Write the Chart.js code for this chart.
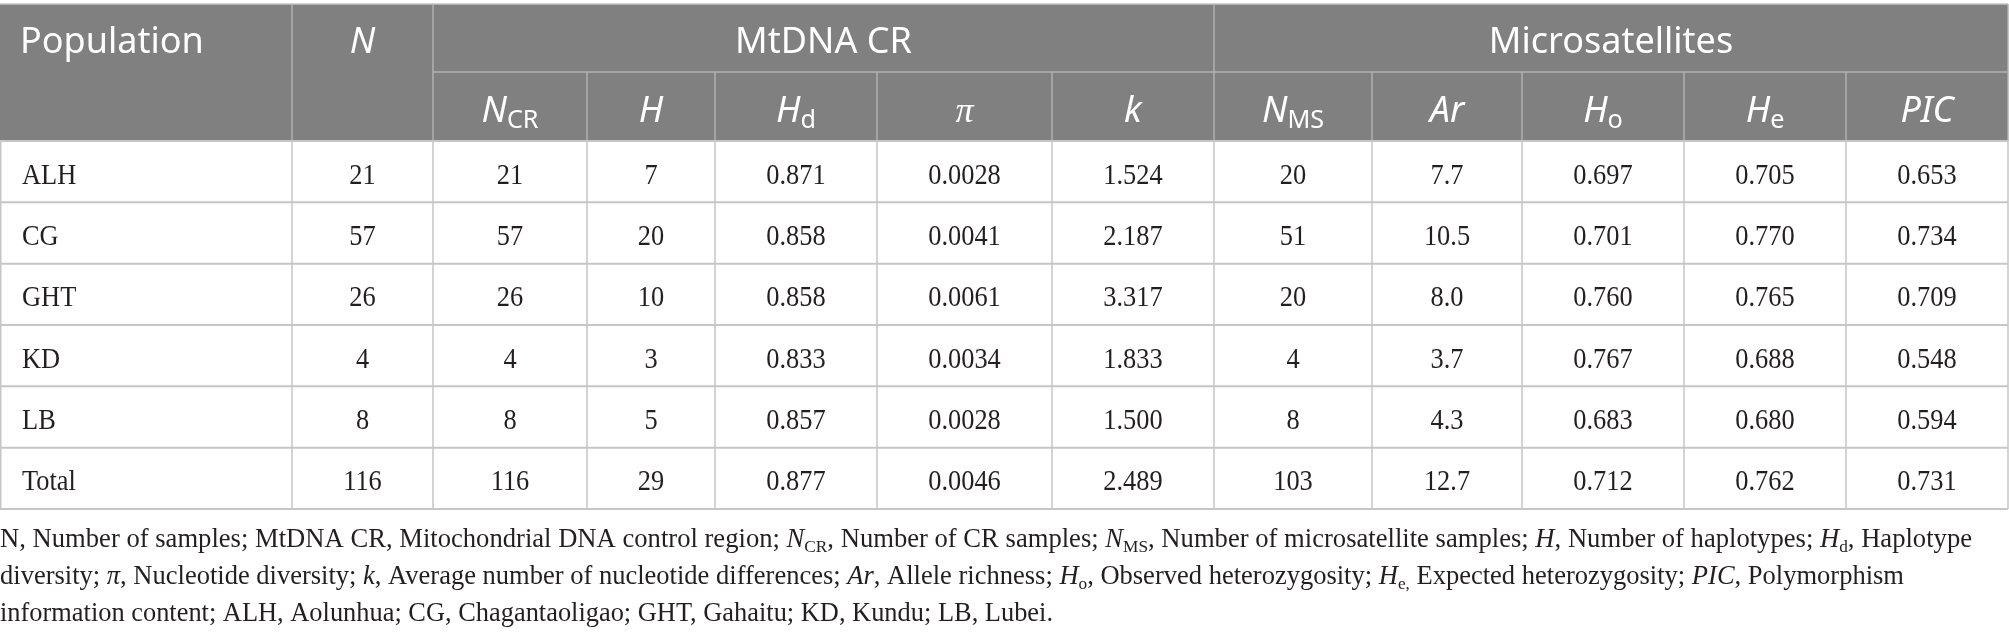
<!DOCTYPE html>
<html>
<head>
<meta charset="utf-8">
<script src="https://cdn.jsdelivr.net/npm/chart.js@4.4.1/dist/chart.umd.min.js"></script>
<style>
  html, body { margin: 0; padding: 0; background: #fff; }
  #wrap { width: 2009px; height: 637px; position: relative; }
</style>
</head>
<body>
<div id="wrap"><canvas id="tableChart"></canvas></div>
<script>
// table values, one array per column
const POPULATIONS = ['ALH', 'CG', 'GHT', 'KD', 'LB', 'Total'];
const N_TOTAL = [21, 57, 26, 4, 8, 116];
const N_CR = [21, 57, 26, 4, 8, 116];
const HAPLOTYPES = [7, 20, 10, 3, 5, 29];
const HAP_DIV = [0.871, 0.858, 0.858, 0.833, 0.857, 0.877];
const NUC_DIV = [0.0028, 0.0041, 0.0061, 0.0034, 0.0028, 0.0046];
const K_DIFF = [1.524, 2.187, 3.317, 1.833, 1.500, 2.489];
const N_MS = [20, 51, 20, 4, 8, 103];
const ALLELE_RICH = [7.7, 10.5, 8.0, 3.7, 4.3, 12.7];
const HO = [0.697, 0.701, 0.760, 0.767, 0.683, 0.712];
const HE = [0.705, 0.770, 0.765, 0.688, 0.680, 0.762];
const PIC = [0.653, 0.734, 0.709, 0.548, 0.594, 0.731];

// header texts: [text, style('i' italic, 's' subscript), family]
const GROUP_LABELS = ['MtDNA CR', 'Microsatellites'];
const COLUMN_LABELS = [
    [['N', 'i'], ['CR', 's']], [['H', 'i']], [['H', 'i'], ['d', 's']], [['\u03c0', 'i', 'serif']], [['k', 'i']],
    [['N', 'i'], ['MS', 's']], [['Ar', 'i']], [['H', 'i'], ['o', 's']], [['H', 'i'], ['e', 's']], [['PIC', 'i']]
];
const FOOTNOTE = [
    [['N, Number of samples; MtDNA CR, Mitochondrial DNA control region; '], ['N', 'i'], ['CR', 's'],
     [', Number of CR samples; '], ['N', 'i'], ['MS', 's'], [', Number of microsatellite samples; '],
     ['H', 'i'], [', Number of haplotypes; '], ['H', 'i'], ['d', 's'], [', Haplotype']],
    [['diversity; '], ['\u03c0', 'i'], [', Nucleotide diversity; '], ['k', 'i'],
     [', Average number of nucleotide differences; '], ['Ar', 'i'], [', Allele richness; '],
     ['H', 'i'], ['o', 's'], [', Observed heterozygosity; '], ['H', 'i'], ['e,', 's'],
     [' Expected heterozygosity; '], ['PIC', 'i'], [', Polymorphism']],
    [['information content; ALH, Aolunhua; CG, Chagantaoligao; GHT, Gahaitu; KD, Kundu; LB, Lubei.']]
];

const COLUMNS = [
    { values: N_TOTAL, digits: 0 },
    { values: N_CR, digits: 0 },
    { values: HAPLOTYPES, digits: 0 },
    { values: HAP_DIV, digits: 3 },
    { values: NUC_DIV, digits: 4 },
    { values: K_DIFF, digits: 3 },
    { values: N_MS, digits: 0 },
    { values: ALLELE_RICH, digits: 1 },
    { values: HO, digits: 3 },
    { values: HE, digits: 3 },
    { values: PIC, digits: 3 }
];

// layout (x scale units = px of the table)
const COL_EDGES = [0, 292, 433, 587, 715, 877, 1052, 1214, 1372, 1522, 1684, 1846, 2008];
const HEADER_TOP = 4;
const HEADER_SPLIT = 72;
const HEADER_BG = '#808080';
const HEADER_LINE = '#b0b0b0';
const BODY_LINE = '#c6c6c6';
const TEXT_COLOR = '#231f20';
const SANS = '"Noto Sans", "Open Sans", sans-serif';
const SERIF = '"Liberation Serif", "DejaVu Serif", serif';
const CELL_SX = 0.88;
const FOOT_BASELINES = [547, 584, 621];
const FOOT_WIDTHS = [1972, 1904, 1053];

function drawRich(ctx, parts, x, y, align, opt) {
    const fontOf = p => {
        const st = p[1] || '';
        const size = st.includes('s') ? opt.size * opt.subScale : opt.size;
        const fam = p[2] === 'serif' ? SERIF : opt.family;
        return (st.includes('i') ? 'italic ' : '') + size + 'px ' + fam;
    };
    let total = 0;
    const widths = parts.map(p => {
        ctx.font = fontOf(p);
        const w = ctx.measureText(p[0]).width;
        total += w;
        return w;
    });
    const sx = opt.fitWidth ? opt.fitWidth / total : 1;
    const startX = align === 'center' ? x - total * sx / 2 : x;
    ctx.save();
    ctx.fillStyle = opt.color;
    ctx.textAlign = 'left';
    ctx.textBaseline = 'alphabetic';
    ctx.translate(startX, y);
    ctx.scale(sx, 1);
    let px = 0;
    parts.forEach((p, i) => {
        ctx.font = fontOf(p);
        const dy = (p[1] || '').includes('s') ? opt.subShift : 0;
        ctx.fillText(p[0], px, dy);
        px += widths[i];
    });
    ctx.restore();
}

function line(ctx, x1, y1, x2, y2, color, w) {
    ctx.beginPath();
    ctx.strokeStyle = color;
    ctx.lineWidth = w;
    ctx.moveTo(x1, y1);
    ctx.lineTo(x2, y2);
    ctx.stroke();
}

// condensed serif text for the body cells
function cellText(ctx, text, x, y, align) {
    ctx.save();
    ctx.translate(x, y);
    ctx.scale(CELL_SX, 1);
    ctx.textAlign = align;
    ctx.fillText(text, 0, 0);
    ctx.restore();
}

const tablePlugin = {
    id: 'tablePlugin',
    beforeDatasetsDraw(chart) {
        const ctx = chart.ctx;
        const xs = chart.scales.x, ys = chart.scales.y;
        const area = chart.chartArea;
        const px = v => xs.getPixelForValue(v);
        const left = px(COL_EDGES[0]), right = px(COL_EDGES[COL_EDGES.length - 1]);
        const half = (ys.getPixelForValue(1) - ys.getPixelForValue(0)) / 2;

        ctx.save();
        // header block
        ctx.fillStyle = HEADER_BG;
        ctx.fillRect(left, HEADER_TOP, right - left, area.top - HEADER_TOP);
        line(ctx, left, HEADER_TOP, right, HEADER_TOP, '#c4c4c4', 1.5);
        line(ctx, px(COL_EDGES[2]), HEADER_SPLIT, right, HEADER_SPLIT, HEADER_LINE, 1.5);
        [1, 2, 7].forEach(i => line(ctx, px(COL_EDGES[i]), HEADER_TOP, px(COL_EDGES[i]), area.top, HEADER_LINE, 1.5));
        [3, 4, 5, 6, 8, 9, 10, 11].forEach(i => line(ctx, px(COL_EDGES[i]), HEADER_SPLIT, px(COL_EDGES[i]), area.top, HEADER_LINE, 1.5));
        line(ctx, right, HEADER_TOP, right, area.top, HEADER_LINE, 1.5);

        // body grid
        for (let r = 0; r <= POPULATIONS.length; r++) {
            const y = r < POPULATIONS.length ? ys.getPixelForValue(r) - half : area.bottom;
            line(ctx, left, y, right, y, BODY_LINE, 2);
        }
        COL_EDGES.forEach(e => {
            const x = Math.min(Math.max(px(e), 0.75), right);
            line(ctx, x, area.top, x, area.bottom, BODY_LINE, 1.5);
        });
        ctx.restore();
    },
    afterDatasetsDraw(chart) {
        const ctx = chart.ctx;
        const xs = chart.scales.x, ys = chart.scales.y;
        const px = v => xs.getPixelForValue(v);

        // header text
        const hdr = { size: 36, subScale: 0.7, subShift: 6, family: SANS, color: '#ffffff' };
        drawRich(ctx, [['Population']], px(COL_EDGES[0]) + 20, 53, 'left', hdr);
        drawRich(ctx, [['N', 'i']], (px(COL_EDGES[1]) + px(COL_EDGES[2])) / 2, 53, 'center', hdr);
        drawRich(ctx, [[GROUP_LABELS[0]]], (px(COL_EDGES[2]) + px(COL_EDGES[7])) / 2, 53, 'center', hdr);
        drawRich(ctx, [[GROUP_LABELS[1]]], (px(COL_EDGES[7]) + px(COL_EDGES[12])) / 2, 53, 'center', hdr);
        COLUMN_LABELS.forEach((parts, i) => {
            const cx = (px(COL_EDGES[i + 2]) + px(COL_EDGES[i + 3])) / 2;
            drawRich(ctx, parts, cx, 122, 'center', hdr);
        });

        // row names and cell values
        ctx.save();
        ctx.fillStyle = TEXT_COLOR;
        ctx.font = '30px ' + SERIF;
        ctx.textBaseline = 'alphabetic';
        POPULATIONS.forEach((p, i) => cellText(ctx, p, px(COL_EDGES[0]) + 22, ys.getPixelForValue(i) + 12, 'left'));
        chart.data.datasets.forEach((ds, di) => {
            const meta = chart.getDatasetMeta(di);
            meta.data.forEach((el, i) => cellText(ctx, ds.labels[i], el.x, el.y + 12, 'center'));
        });
        ctx.restore();

        // footnote
        const foot = { size: 27, subScale: 0.65, subShift: 5, family: SERIF, color: TEXT_COLOR };
        FOOTNOTE.forEach((parts, i) => {
            drawRich(ctx, parts, 0, FOOT_BASELINES[i], 'left', Object.assign({ fitWidth: FOOT_WIDTHS[i] }, foot));
        });
    }
};

const datasets = COLUMNS.map((col, c) => ({
    label: 'col' + c,
    data: col.values.map((v, i) => ({ x: (COL_EDGES[c + 1] + COL_EDGES[c + 2]) / 2, y: POPULATIONS[i] })),
    labels: col.values.map(v => v.toFixed(col.digits)),
    pointRadius: 0,
    pointHoverRadius: 0
}));

new Chart(document.getElementById('tableChart'), {
    type: 'scatter',
    data: { labels: POPULATIONS, datasets: datasets },
    options: {
        responsive: true,
        maintainAspectRatio: false,
        animation: false,
        events: [],
        layout: { padding: { top: 141, bottom: 637 - 509, left: 0, right: 0 } },
        plugins: { legend: { display: false }, tooltip: { enabled: false } },
        scales: {
            x: { type: 'linear', min: 0, max: 2009, display: false },
            y: { type: 'category', labels: POPULATIONS, offset: true, display: false }
        }
    },
    plugins: [tablePlugin]
});
</script>
</body>
</html>
